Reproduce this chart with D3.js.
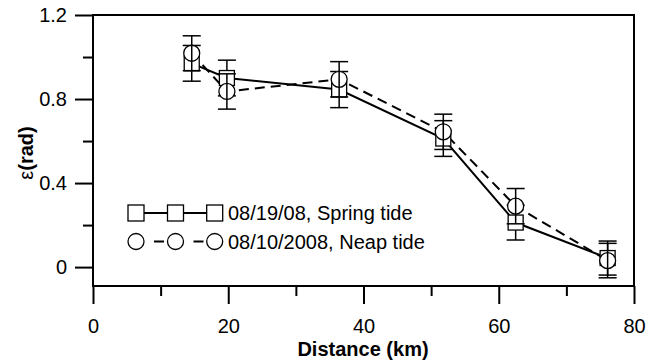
<!DOCTYPE html>
<html>
<head>
<meta charset="utf-8">
<script src="https://cdn.jsdelivr.net/npm/d3@7"></script>
<style>
  html, body { margin: 0; padding: 0; background: #fff; }
  svg { display: block; font-family: "Liberation Sans", Arial, sans-serif; }
</style>
</head>
<body>
<svg id="chart" width="657" height="362"></svg>
<script>
// Station distances along the estuary (km)
const distance = [14.6, 19.8, 36.4, 51.8, 62.5, 76.1];
// Phase difference, spring tide survey (rad) and its error
const springPhase = [0.97, 0.90, 0.845, 0.612, 0.212, 0.043];
const springErr   = [0.085, 0.085, 0.086, 0.085, 0.083, 0.081];
// Phase difference, neap tide survey (rad) and its error
const neapPhase = [1.018, 0.836, 0.894, 0.644, 0.290, 0.031];
const neapErr   = [0.083, 0.084, 0.084, 0.084, 0.084, 0.082];

const xMajor = [0, 20, 40, 60, 80];
const xMinor = [10, 30, 50, 70];
const yMajor = [0, 0.4, 0.8, 1.2];
const yMinor = [0.2, 0.6, 1.0];
const legendLabels = ["08/19/08, Spring tide", "08/10/2008, Neap tide"];

const svg = d3.select("#chart");
const plotLeft = 93, plotRight = 634, plotTop = 15, plotBottom = 286;

const x = d3.scaleLinear().domain([0, 80]).range([plotLeft, plotRight]);
const y = d3.scaleLinear().domain([-0.09, 1.2]).range([plotBottom, plotTop]);

const fontSize = 20;

// Axes with outward ticks
svg.append("g").attr("transform", `translate(0,${plotBottom})`)
  .call(d3.axisBottom(x).tickValues(xMajor).tickSize(18).tickPadding(15).tickFormat(d3.format("d")));
svg.append("g").attr("transform", `translate(0,${plotBottom})`)
  .call(d3.axisBottom(x).tickValues(xMinor).tickSize(10).tickFormat(""));
svg.append("g").attr("transform", `translate(${plotLeft},0)`)
  .call(d3.axisLeft(y).tickValues(yMajor).tickSize(18).tickPadding(8).tickFormat(d => d === 0 ? "0" : d3.format(".1f")(d)));
svg.append("g").attr("transform", `translate(${plotLeft},0)`)
  .call(d3.axisLeft(y).tickValues(yMinor).tickSize(10).tickFormat(""));

svg.selectAll(".domain").remove();
svg.selectAll(".tick line").attr("stroke", "#000").attr("stroke-width", 2);
svg.selectAll(".tick text").attr("fill", "#000").attr("font-size", fontSize)
  .attr("font-family", "Liberation Sans, Arial, sans-serif");

// Plot frame
svg.append("rect")
  .attr("x", plotLeft).attr("y", plotTop)
  .attr("width", plotRight - plotLeft).attr("height", plotBottom - plotTop)
  .attr("fill", "none").attr("stroke", "#000").attr("stroke-width", 2);

// Axis titles
svg.append("text")
  .attr("x", 363).attr("y", 356)
  .attr("text-anchor", "middle").attr("font-size", fontSize).attr("font-weight", "bold")
  .text("Distance (km)");

const yTitle = svg.append("text")
  .attr("transform", "translate(33,153) rotate(-90)")
  .attr("text-anchor", "middle").attr("font-size", fontSize).attr("font-weight", "bold");
yTitle.append("tspan").attr("font-weight", "normal").text("ε");
yTitle.append("tspan").text("(rad)");

const spring = distance.map((d, i) => ({ x: d, v: springPhase[i], e: springErr[i] }));
const neap = distance.map((d, i) => ({ x: d, v: neapPhase[i], e: neapErr[i] }));

const line = d3.line().x(d => x(d.x)).y(d => y(d.v));

// Connecting lines
svg.append("path").datum(spring).attr("d", line)
  .attr("fill", "none").attr("stroke", "#000").attr("stroke-width", 2);
svg.append("path").datum(neap).attr("d", line)
  .attr("fill", "none").attr("stroke", "#000").attr("stroke-width", 2)
  .attr("stroke-dasharray", "10,6");

function errorBars(data) {
  const g = svg.append("g").attr("stroke", "#000").attr("stroke-width", 1.5);
  data.forEach(d => {
    const cx = x(d.x), y0 = y(d.v + d.e), y1 = y(d.v - d.e);
    g.append("line").attr("x1", cx).attr("x2", cx).attr("y1", y0).attr("y2", y1);
    g.append("line").attr("x1", cx - 9).attr("x2", cx + 9).attr("y1", y0).attr("y2", y0);
    g.append("line").attr("x1", cx - 9).attr("x2", cx + 9).attr("y1", y1).attr("y2", y1);
  });
}

const sq = 15, rad = 8;

errorBars(spring);
svg.append("g").selectAll("rect").data(spring).join("rect")
  .attr("x", d => x(d.x) - sq / 2).attr("y", d => y(d.v) - sq / 2)
  .attr("width", sq).attr("height", sq)
  .attr("fill", "#fff").attr("stroke", "#000").attr("stroke-width", 1.3);
svg.append("g").selectAll("circle").data(neap).join("circle")
  .attr("cx", d => x(d.x)).attr("cy", d => y(d.v)).attr("r", rad)
  .attr("fill", "#fff").attr("stroke", "#000").attr("stroke-width", 1.3);
errorBars(neap);

// Legend
const legX = [136, 175.5, 214.7];
const legY = [213, 241.5];
const leg = svg.append("g");
leg.append("line").attr("x1", legX[0]).attr("x2", legX[2]).attr("y1", legY[0]).attr("y2", legY[0])
  .attr("stroke", "#000").attr("stroke-width", 2);
for (let i = 0; i < 2; i++) {
  leg.append("line")
    .attr("x1", legX[i] + rad).attr("x2", legX[i + 1] - rad)
    .attr("y1", legY[1]).attr("y2", legY[1])
    .attr("stroke", "#000").attr("stroke-width", 2).attr("stroke-dasharray", "0,10,10,10");
}
leg.selectAll("rect").data(legX).join("rect")
  .attr("x", d => d - 8).attr("y", legY[0] - 8).attr("width", 16).attr("height", 16)
  .attr("fill", "#fff").attr("stroke", "#000").attr("stroke-width", 1.3);
leg.selectAll("circle").data(legX).join("circle")
  .attr("cx", d => d).attr("cy", legY[1]).attr("r", rad)
  .attr("fill", "#fff").attr("stroke", "#000").attr("stroke-width", 1.3);
leg.selectAll("text").data(legendLabels).join("text")
  .attr("x", 228).attr("y", (d, i) => legY[i]).attr("dy", "0.35em")
  .attr("font-size", fontSize).text(d => d);
</script>
</body>
</html>
